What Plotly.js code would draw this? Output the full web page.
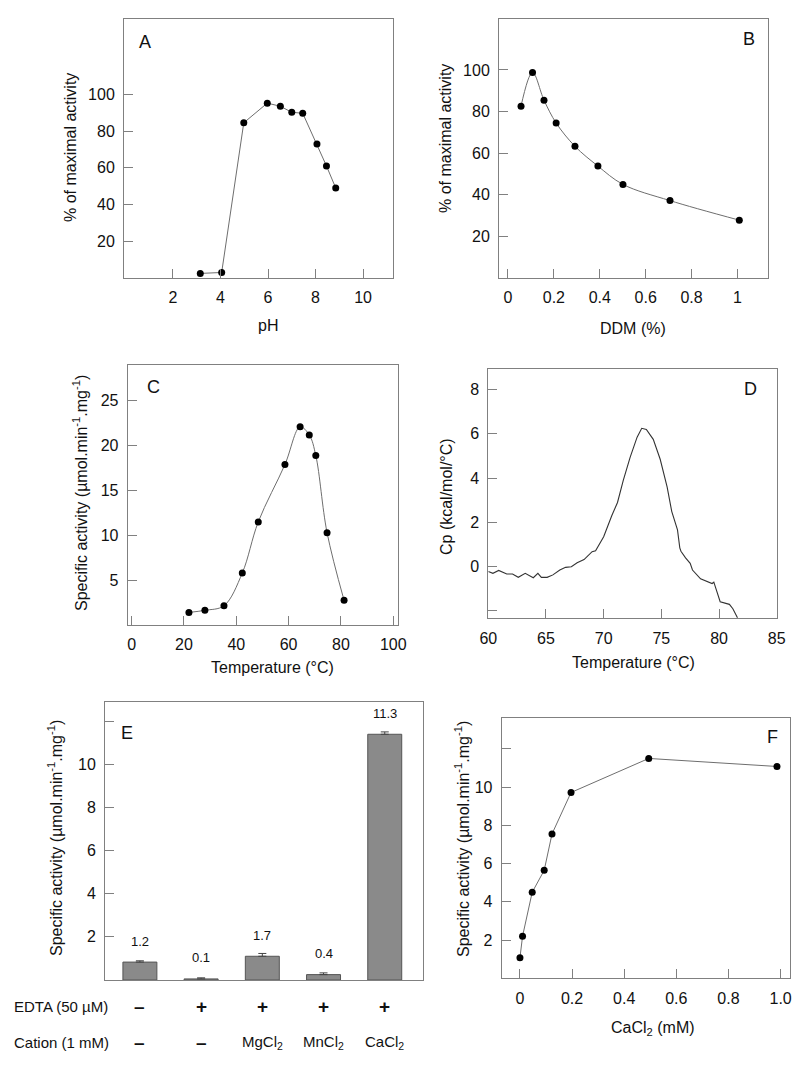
<!DOCTYPE html>
<html>
<head>
<meta charset="utf-8">
<script src="https://cdn.plot.ly/plotly-3.0.1.min.js"></script>
<style>
  html, body { margin: 0; padding: 0; background: #fff; }
  #chart { width: 800px; height: 1066px; }
</style>
</head>
<body>
<div id="chart"></div>
<script>
// A: pH profile
var phX = [3.15, 4.05, 4.98, 5.97, 6.52, 7.0, 7.46, 8.06, 8.46, 8.85];
var phY = [2.5, 3, 84.5, 95.2, 93.5, 90.2, 89.7, 73, 61, 49];

// B: DDM concentration
var ddmX = [0.057, 0.107, 0.157, 0.21, 0.292, 0.392, 0.501, 0.706, 1.008];
var ddmY = [82.6, 98.8, 85.5, 74.5, 63.3, 53.8, 45, 37.2, 27.8];

// C: temperature profile
var tempX = [21.9, 28.0, 35.3, 42.3, 48.4, 58.6, 64.4, 67.9, 70.4, 74.7, 81.2];
var tempY = [1.4, 1.64, 2.15, 5.8, 11.5, 17.9, 22.1, 21.2, 18.9, 10.3, 2.75];

// D: DSC trace
var dscT = [60.0, 60.4, 60.9, 61.6, 62.1, 62.6, 63.2, 63.9, 64.3, 64.6, 65.1, 65.6, 66.2, 66.7,
  67.2, 67.7, 68.3, 69.0, 69.3, 70.0, 70.7, 71.2, 71.7, 72.3, 72.9, 73.3, 73.7, 74.3, 74.9,
  75.5, 75.9, 76.4, 76.6, 76.7, 77.1, 77.5, 77.7, 78.4, 79.4, 79.55, 80.1, 80.5, 80.9, 81.2, 81.6];
var dscCp = [-0.22, -0.30, -0.17, -0.33, -0.33, -0.48, -0.30, -0.50, -0.30, -0.48, -0.48, -0.37, -0.15, -0.03,
  0.0, 0.18, 0.32, 0.68, 0.72, 1.35, 2.3, 2.9, 3.9, 4.95, 5.85, 6.25, 6.2, 5.75, 4.85,
  3.6, 2.5, 1.66, 0.85, 0.7, 0.4, 0.15, -0.15, -0.55, -0.76, -0.70, -1.58, -1.65, -1.70, -1.9, -2.3];

// E: effect of cations
var eConditions = ['none', 'EDTA', 'EDTA+MgCl2', 'EDTA+MnCl2', 'EDTA+CaCl2'];
var eActivity = [0.83, 0.05, 1.1, 0.25, 11.39];
var eError = [0.06, 0.05, 0.13, 0.08, 0.11];
var eLabels = ['1.2', '0.1', '1.7', '0.4', '11.3'];
var edtaRow = ['–', '+', '+', '+', '+'];
var cationRow = ['–', '–', 'MgCl<sub>2</sub>', 'MnCl<sub>2</sub>', 'CaCl<sub>2</sub>'];

// F: CaCl2 concentration
var caX = [0, 0.01, 0.047, 0.093, 0.123, 0.196, 0.494, 0.986];
var caY = [1.07, 2.2, 4.5, 5.65, 7.55, 9.72, 11.5, 11.08];

var W = 800, H = 1066;
function fx(p) { return p / W; }
function fy(p) { return 1 - p / H; }

var FONT = 'Liberation Sans, Arial, sans-serif';
var AX = '#808080';

function axis(l, r, range, vals, text, anchor, vertical) {
  var a = {
    domain: vertical ? [fy(r), fy(l)] : [fx(l), fx(r)],
    range: range,
    anchor: anchor,
    showline: true, mirror: true, linecolor: AX, linewidth: 1,
    ticks: 'inside', ticklen: 9, tickcolor: AX, tickwidth: 1,
    showgrid: false, zeroline: false,
    tickfont: {family: FONT, size: 16, color: '#111'},
    ticklabelstandoff: 5
  };
  if (vals) { a.tickvals = vals; a.ticktext = text; }
  return a;
}

var markerStyle = {color: '#000', size: 7};
var lineStyle = {color: '#6e6e6e', width: 1};

var traces = [
  {x: phX, y: phY, xaxis: 'x', yaxis: 'y', mode: 'lines+markers', marker: markerStyle, line: lineStyle},
  {x: ddmX, y: ddmY, xaxis: 'x2', yaxis: 'y2', mode: 'lines+markers', marker: markerStyle,
    line: {color: '#6e6e6e', width: 1, shape: 'spline', smoothing: 1}},
  {x: tempX, y: tempY, xaxis: 'x3', yaxis: 'y3', mode: 'lines+markers', marker: markerStyle,
    line: {color: '#6e6e6e', width: 1, shape: 'spline', smoothing: 1}},
  {x: dscT, y: dscCp, xaxis: 'x4', yaxis: 'y4', mode: 'lines', line: {color: '#333', width: 1.1}},
  {x: eConditions, y: eActivity, xaxis: 'x5', yaxis: 'y5', type: 'bar', width: 0.555,
    marker: {color: '#8a8a8a', line: {color: '#555', width: 1}},
    error_y: {type: 'data', array: eError, arrayminus: [0, 0, 0, 0, 0], symmetric: false,
      color: '#444', thickness: 1, width: 4}},
  {x: caX, y: caY, xaxis: 'x6', yaxis: 'y6', mode: 'lines+markers', marker: markerStyle, line: lineStyle}
];

var layout = {
  width: W, height: H,
  margin: {l: 0, r: 0, t: 0, b: 0},
  paper_bgcolor: '#fff', plot_bgcolor: '#fff',
  showlegend: false,
  font: {family: FONT, color: '#111'},
  xaxis: axis(124, 393, [-0.06, 11.26], [2, 4, 6, 8, 10], ['2', '4', '6', '8', '10'], 'y'),
  yaxis: axis(19, 278, [0, 141], [20, 40, 60, 80, 100], ['20', '40', '60', '80', '100'], 'x', true),
  xaxis2: axis(499, 768, [-0.039, 1.133], [0, 0.2, 0.4, 0.6, 0.8, 1], ['0', '0.2', '0.4', '0.6', '0.8', '1'], 'y2'),
  yaxis2: axis(19, 278, [0, 124.5], [20, 40, 60, 80, 100], ['20', '40', '60', '80', '100'], 'x2', true),
  xaxis3: axis(127.7, 397.7, [-1.5, 101.7], [0, 20, 40, 60, 80, 100], ['0', '20', '40', '60', '80', '100'], 'y3'),
  yaxis3: axis(365, 625, [0, 29], [5, 10, 15, 20, 25], ['5', '10', '15', '20', '25'], 'x3', true),
  xaxis4: axis(488.3, 776.7, [60, 85], [60, 65, 70, 75, 80, 85], ['60', '65', '70', '75', '80', '85'], 'y4'),
  yaxis4: axis(368.7, 618.3, [-2.33, 8.94], [-2, 0, 2, 4, 6, 8], ['', '0', '2', '4', '6', '8'], 'x4', true),
  xaxis5: axis(105, 422.7, [-0.57, 4.62], null, null, 'y5'),
  yaxis5: axis(701.7, 980, [0, 12.9], [2, 4, 6, 8, 10, 12], ['2', '4', '6', '8', '10', ''], 'x5', true),
  xaxis6: axis(501.7, 790, [-0.07, 1.036], [0, 0.2, 0.4, 0.6, 0.8, 1.0], ['0', '0.2', '0.4', '0.6', '0.8', '1.0'], 'y6'),
  yaxis6: axis(718.3, 978.3, [0, 13.6], [2, 4, 6, 8, 10, 12], ['2', '4', '6', '8', '10', ''], 'x6', true),
  annotations: []
};
layout.xaxis5.type = 'category';
layout.xaxis5.ticks = '';
layout.xaxis5.showticklabels = false;

var ann = layout.annotations;
function label(text, x, y, size, angle, xanchor) {
  ann.push({text: text, x: fx(x), y: fy(y), xref: 'paper', yref: 'paper', showarrow: false,
    textangle: angle || 0, xanchor: xanchor || 'center', yanchor: 'middle',
    font: {family: FONT, size: size, color: '#111'}});
}
var unit = 'Specific activity (µmol.min<sup>-1</sup>.mg<sup>-1</sup>)';

// panel letters
label('A', 145, 42, 18);
label('B', 749, 39, 18);
label('C', 153, 387, 18);
label('D', 750, 389, 18);
label('E', 127, 733, 18);
label('F', 772, 737, 18);

// axis titles
label('pH', 268, 325, 16);
label('% of maximal activity', 70, 148, 16, -90);
label('DDM (%)', 633, 329, 16);
label('% of maximal activity', 445, 139, 16, -90);
label('Temperature (°C)', 272, 667, 16);
label(unit, 80, 493, 16, -90);
label('Temperature (°C)', 633, 662, 16);
label('Cp (kcal/mol/°C)', 447, 497, 16, -90);
label(unit, 55, 838, 16, -90);
label('CaCl<sub>2</sub> (mM)', 653, 1028, 16);
label(unit, 462, 839, 16, -90);

// E: value labels above bars and condition rows
label('EDTA (50 µM)', 12, 1006, 15, 0, 'left');
label('Cation (1 mM)', 12, 1042, 15, 0, 'left');
for (var i = 0; i < eConditions.length; i++) {
  ann.push({text: eLabels[i], x: eConditions[i], y: eActivity[i], xref: 'x5', yref: 'y5',
    yshift: 21, yanchor: 'middle', showarrow: false, font: {family: FONT, size: 13, color: '#111'}});
  ann.push({text: '<b>' + edtaRow[i] + '</b>', x: eConditions[i], y: fy(1006), xref: 'x5', yref: 'paper',
    yanchor: 'middle', showarrow: false, font: {family: FONT, size: 19, color: '#111'}});
  var c = cationRow[i];
  ann.push({text: c.length === 1 ? '<b>' + c + '</b>' : c, x: eConditions[i], y: fy(1042), xref: 'x5', yref: 'paper',
    yanchor: 'middle', showarrow: false, font: {family: FONT, size: c.length === 1 ? 19 : 15, color: '#111'}});
}

Plotly.newPlot('chart', traces, layout, {displayModeBar: false, staticPlot: true});
</script>
</body>
</html>
